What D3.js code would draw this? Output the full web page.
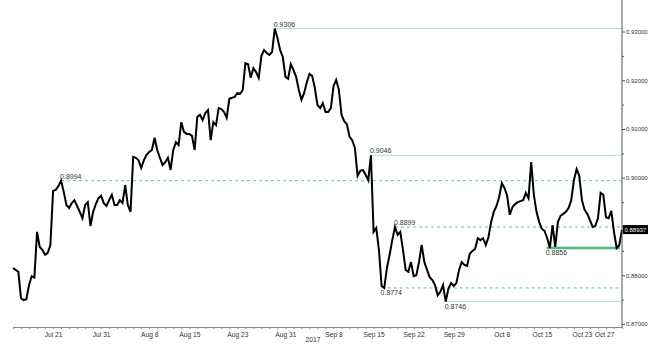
<!DOCTYPE html>
<html>
<head>
<meta charset="utf-8">
<script src="https://cdn.jsdelivr.net/npm/d3@7"></script>
<style>
  body { margin: 0; background: #fff; }
  svg { display: block; font-family: "Liberation Sans", Arial, sans-serif; }
</style>
</head>
<body>
<div id="chart"></div>
<script>
(function () {

  // price samples, 3 per trading day, starting Fri 14 Jul 2017
  var startDate = "2017-07-14"
  var stepsPerDay = 3
  var closes = [
    0.8815, 0.8811, 0.8807,  0.8753, 0.8749, 0.8751,  0.8780, 0.8798, 0.8795,
    0.8889, 0.8858, 0.8852,  0.8842, 0.8846, 0.8862,  0.8973, 0.8975, 0.8983,
    0.8994, 0.8971, 0.8944,  0.8938, 0.8948, 0.8954,  0.8942, 0.8930, 0.8917,
    0.8944, 0.8950, 0.8901,  0.8930, 0.8946, 0.8958,  0.8963, 0.8948, 0.8942,
    0.8954, 0.8965, 0.8944,  0.8944, 0.8954, 0.8948,  0.8985, 0.8944, 0.8930,
    0.9043, 0.9041, 0.9036,  0.9020, 0.9036, 0.9047,  0.9053, 0.9057, 0.9082,
    0.9057, 0.9041, 0.9026,  0.9032, 0.9041, 0.9016,  0.9057, 0.9073, 0.9067,
    0.9114, 0.9094, 0.9090,  0.9090, 0.9086, 0.9057,  0.9125, 0.9129, 0.9118,
    0.9133, 0.9139, 0.9077,  0.9114, 0.9108, 0.9143,  0.9141, 0.9135, 0.9123,
    0.9162, 0.9164, 0.9166,  0.9174, 0.9172, 0.9180,  0.9235, 0.9233, 0.9205,
    0.9225, 0.9217, 0.9205,  0.9250, 0.9262, 0.9256,  0.9252, 0.9258, 0.9306,
    0.9287, 0.9262, 0.9248,  0.9207, 0.9203, 0.9233,  0.9221, 0.9207, 0.9180,
    0.9160, 0.9174, 0.9196,  0.9213, 0.9209, 0.9184,  0.9149, 0.9143, 0.9153,
    0.9135, 0.9135, 0.9143,  0.9188, 0.9201, 0.9180,  0.9129, 0.9116, 0.9110,
    0.9084, 0.9077, 0.9061,  0.9004, 0.9014, 0.9016,  0.9006, 0.8995, 0.9046,
    0.8889, 0.8897, 0.8852,  0.8778, 0.8774, 0.8815,  0.8842, 0.8872, 0.8899,
    0.8883, 0.8889, 0.8852,  0.8811, 0.8807, 0.8827,  0.8798, 0.8800, 0.8827,
    0.8862, 0.8827, 0.8811,  0.8796, 0.8790, 0.8780,  0.8759, 0.8766, 0.8780,
    0.8746, 0.8772, 0.8784,  0.8778, 0.8784, 0.8811,  0.8827, 0.8821, 0.8819,
    0.8844, 0.8850, 0.8854,  0.8876, 0.8872, 0.8876,  0.8862, 0.8878, 0.8909,
    0.8930, 0.8942, 0.8960,  0.8989, 0.8979, 0.8963,  0.8924, 0.8940, 0.8946,
    0.8950, 0.8952, 0.8954,  0.8969, 0.8958, 0.9032,  0.8965, 0.8930, 0.8909,
    0.8895, 0.8891, 0.8876,  0.8856, 0.8903, 0.8858,  0.8909, 0.8922, 0.8926,
    0.8930, 0.8938, 0.8954,  0.8995, 0.9018, 0.9004,  0.8954, 0.8934, 0.8926,
    0.8913, 0.8899, 0.8901,  0.8917, 0.8969, 0.8965,  0.8919, 0.8917, 0.8932,
    0.8889, 0.8856, 0.8862,  0.88937
  ]

  var tickDates = ["2017-07-21", "2017-07-31", "2017-08-08", "2017-08-15", "2017-08-23",
    "2017-08-31", "2017-09-08", "2017-09-15", "2017-09-22", "2017-09-29",
    "2017-10-08", "2017-10-15", "2017-10-23", "2017-10-27"]
  var tickLabels = ["Jul 21", "Jul 31", "Aug 8", "Aug 15", "Aug 23", "Aug 31", "Sep 8",
    "Sep 15", "Sep 22", "Sep 29", "Oct 8", "Oct 15", "Oct 23", "Oct 27"]
  var yearLabel = "2017"

  var yTicks = [0.87, 0.88, 0.89, 0.90, 0.91, 0.92, 0.93]
  var yMinorTicks = [0.875, 0.885, 0.895, 0.905, 0.915, 0.925]

  // horizontal levels: value, trading-day index where it starts, kind
  var levelValues = [0.9306, 0.9046, 0.8994, 0.8899, 0.8774, 0.8746, 0.8856]
  var levelStart = [32.67, 44.67, 6, 47.67, 46, 54, 66.6]
  var levelKind = ["line", "line", "dash", "dash", "dash", "line", "support"]

  var lastPrice = closes[closes.length - 1]

  var width = 661, height = 352

  var svg = d3.select("#chart").append("svg")
      .attr("width", width)
      .attr("height", height)

  var nDays = 76
  var xPositionScale = d3.scaleLinear().domain([0, nDays]).range([13, 622])
  var yPositionScale = d3.scaleLinear().domain([0.87, 0.93]).range([324, 31.5])

  var axisX = 622, axisY = 327

  // count weekdays from start up to (not incl.) the date
  function tradingIndex(s) {
    var d = new Date(startDate + "T00:00:00Z"), end = new Date(s + "T00:00:00Z"), n = 0
    while (d < end) {
      var w = d.getUTCDay()
      if (w != 0 && w != 6) n++
      d.setUTCDate(d.getUTCDate() + 1)
    }
    return n
  }

  // levels
  var styles = {
    line: { stroke: "#a9dfcb", width: 1, dash: null },
    dash: { stroke: "#62c7a5", width: 1, dash: "3,3" },
    support: { stroke: "#4cb97f", width: 2.5, dash: null }
  }
  var below = { 0.8774: true, 0.8746: true, 0.8856: true }

  levelValues.forEach(function (v, i) {
    var st = styles[levelKind[i]]
    var x0 = xPositionScale(levelStart[i])
    var yy = yPositionScale(v)
    svg.append("line")
      .attr("x1", x0).attr("x2", levelKind[i] == "support" ? 620 : axisX)
      .attr("y1", yy).attr("y2", yy)
      .attr("stroke", st.stroke)
      .attr("stroke-width", st.width)
      .attr("stroke-dasharray", st.dash)
    svg.append("text")
      .attr("x", x0 - 1)
      .attr("y", below[v] ? yy + 7.5 : yy - 2)
      .attr("font-size", 7)
      .attr("fill", "#333")
      .text(d3.format(".4f")(v))
  })

  // price
  var line = d3.line()
    .x(function (d, i) { return xPositionScale(i / stepsPerDay) })
    .y(function (d) { return yPositionScale(d) })

  svg.append("path")
    .datum(closes)
    .attr("fill", "none")
    .attr("stroke", "#000")
    .attr("stroke-width", 2)
    .attr("d", line)

  // bottom axis
  var xAxis = d3.axisBottom(xPositionScale)
    .tickValues(d3.range(0, nDays + 1))
    .tickSize(2)
    .tickSizeOuter(0)
    .tickFormat("")
  var gx = svg.append("g")
    .attr("class", "axis x-axis")
    .attr("transform", "translate(0," + axisY + ")")
    .call(xAxis)
  gx.selectAll("path, line").attr("stroke", "#888")

  var labelIdx = tickDates.map(tradingIndex)
  var xLabels = d3.axisBottom(xPositionScale)
    .tickValues(labelIdx)
    .tickSize(0)
    .tickPadding(5)
    .tickFormat(function (d, i) { return tickLabels[i] })
  var gl = svg.append("g")
    .attr("transform", "translate(0," + axisY + ")")
    .call(xLabels)
  gl.select(".domain").remove()
  gl.selectAll("text").attr("font-size", 6.7).attr("fill", "#333")
    .attr("font-family", "Liberation Sans, Arial, sans-serif")
  gl.selectAll("text").filter(function (d, i) { return i == tickLabels.length - 1 })
    .attr("text-anchor", "end")

  svg.append("text")
    .attr("x", 313).attr("y", 342)
    .attr("text-anchor", "middle")
    .attr("font-size", 6.7)
    .attr("fill", "#333")
    .text(yearLabel)

  // right axis
  svg.append("line")
    .attr("x1", axisX).attr("x2", axisX)
    .attr("y1", 0).attr("y2", axisY)
    .attr("stroke", "#555")

  // the last price tag covers the label nearest to it
  var yAxis = d3.axisRight(yPositionScale)
    .tickValues(yTicks)
    .tickSize(3)
    .tickPadding(1)
    .tickFormat(function (d) {
      return Math.abs(d - lastPrice) < 0.002 ? "" : d3.format(".5f")(d)
    })
  var gy = svg.append("g")
    .attr("class", "axis y-axis")
    .attr("transform", "translate(" + axisX + ",0)")
    .call(yAxis)
  gy.select(".domain").remove()
  gy.selectAll("line").attr("stroke", "#555")
  gy.selectAll("text").attr("font-size", 6).attr("fill", "#333")
    .attr("font-family", "Liberation Sans, Arial, sans-serif")

  var gyMinor = svg.append("g")
    .attr("transform", "translate(" + axisX + ",0)")
    .call(d3.axisRight(yPositionScale).tickValues(yMinorTicks).tickSize(2).tickFormat(""))
  gyMinor.select(".domain").remove()
  gyMinor.selectAll("line").attr("stroke", "#555")

  // last price tag
  var yl = yPositionScale(lastPrice)
  svg.append("rect")
    .attr("x", axisX + 1).attr("y", yl - 4.5)
    .attr("width", 25).attr("height", 9)
    .attr("fill", "#000")
  svg.append("text")
    .attr("x", axisX + 2.5).attr("y", yl + 2.2)
    .attr("font-size", 6)
    .attr("fill", "#fff")
    .text(d3.format(".5f")(lastPrice))

})()
</script>
</body>
</html>
